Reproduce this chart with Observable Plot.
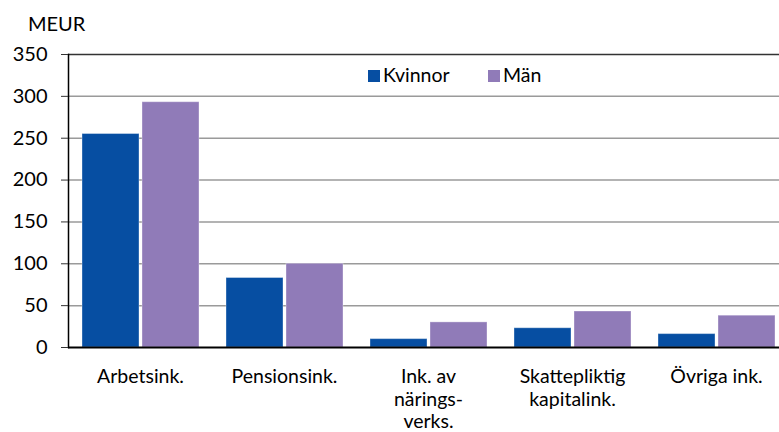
<!DOCTYPE html>
<html><head><meta charset="utf-8">
<script src="https://cdn.jsdelivr.net/npm/d3@7"></script>
<script src="https://cdn.jsdelivr.net/npm/@observablehq/plot@0.6"></script>
<style>
html,body{margin:0;padding:0;overflow:hidden;background:#fff;}
#wrap{position:relative;width:779px;height:432px;overflow:hidden;font-family:Lato,sans-serif;color:#000;}
#wrap svg{position:absolute;left:0;top:0;max-width:none !important;}
.lab{position:absolute;font-size:18px;line-height:1;white-space:nowrap;}
.sw{position:absolute;width:12px;height:12px;}
</style></head><body><div id="wrap"></div>
<script>
const categories = ["Arbetsink.", "Pensionsink.", "Ink. av\nnärings-\nverks.", "Skattepliktig\nkapitalink.", "Övriga ink."];
const series = ["Kvinnor", "Män"];
const kvinnor = [255, 83, 10, 23, 16];
const man = [293, 100, 30, 43, 38];
const yTicks = [0, 50, 100, 150, 200, 250, 300, 350];
const unitLabel = "MEUR";
const colors = ["#064ea2", "#907bb8"];

const values = [kvinnor, man];
const data = categories.flatMap((c, i) => series.map((s, j) => ({cat: c, ser: s, v: values[j][i]})));

const chart = Plot.plot({
  width: 787, height: 432,
  marginLeft: 67, marginRight: 0, marginTop: 54, marginBottom: 85,
  facet: {marginTop: 0, marginBottom: 0, marginLeft: 0, marginRight: 0},
  style: {fontFamily: "Lato, sans-serif", fontSize: "18px", background: "transparent", overflow: "visible", color: "#000", maxWidth: "none"},
  fx: {domain: categories, padding: 0, label: null, range: [67.5, 787.5]},
  x: {domain: series, paddingInner: 0.05, paddingOuter: 0.225, axis: null},
  y: {domain: [0, 350], label: null, range: [347, 54]},
  color: {domain: series, range: colors},
  marks: [
    Plot.ruleY(yTicks.filter(d => d > 0 && d < 350), {stroke: "#9a9a9a", strokeWidth: 1.5}),
    Plot.barY(data, {fx: "cat", x: "ser", y: "v", fill: "ser", stroke: "#ffffff", strokeOpacity: 0.35, strokeWidth: 1}),
    Plot.ruleY([350], {stroke: "#333", strokeWidth: 1.5}),
    Plot.ruleY([0], {stroke: "#000", strokeWidth: 2}),
    Plot.frame({anchor: "left", facetAnchor: "left", stroke: "#000", strokeWidth: 1.5}),
    Plot.axisY({ticks: yTicks, tickSize: 7, tickPadding: 14, label: null, stroke: "#333", fontSize: 20}),
    Plot.axisFx({anchor: "bottom", tickSize: 0, tickPadding: 20, label: null, lineHeight: 1.15, fontSize: 19.5})
  ]
});
const wrap = document.getElementById("wrap");
wrap.appendChild(chart);

function addLabel(text, x, y, size) {
  const d = document.createElement("div");
  d.className = "lab"; d.textContent = text;
  d.style.left = x + "px"; d.style.top = y + "px";
  if (size) d.style.fontSize = size + "px";
  wrap.appendChild(d);
}
addLabel(unitLabel, 28, 13, 20);
const legendX = [368, 488];
series.forEach((s, i) => {
  const sw = document.createElement("div");
  sw.className = "sw"; sw.style.background = colors[i];
  sw.style.left = legendX[i] + "px"; sw.style.top = "70px";
  wrap.appendChild(sw);
  addLabel(s, legendX[i] + 15, 65, 19.5);
});
</script></body></html>
